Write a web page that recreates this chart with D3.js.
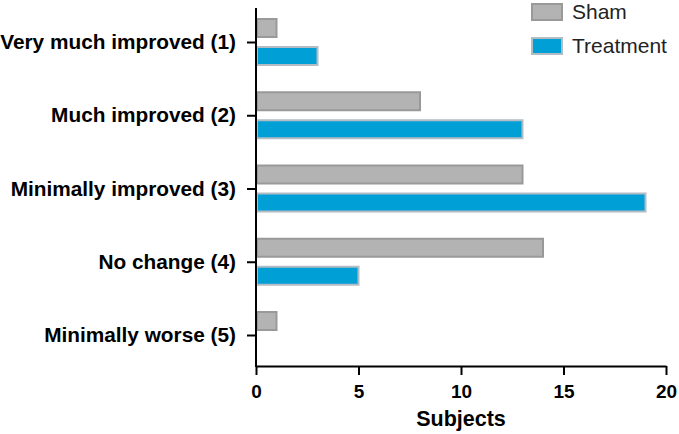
<!DOCTYPE html>
<html><head><meta charset="utf-8">
<script src="https://cdn.jsdelivr.net/npm/d3@7"></script>
<style>body{margin:0;background:#fff}svg{display:block;font-family:"Liberation Sans",Arial,Helvetica,sans-serif}</style>
</head><body>
<svg id="c" width="679" height="434"></svg>
<script>
const categories = ["Very much improved (1)","Much improved (2)","Minimally improved (3)","No change (4)","Minimally worse (5)"];
const sham = [1, 8, 13, 14, 1];
const treatment = [3, 13, 19, 5, 0];
const seriesNames = ["Sham","Treatment"];
const xTicks = [0,5,10,15,20];

const svg = d3.select("#c");
const x = d3.scaleLinear().domain([0,20]).range([256,666]);
const y = d3.scalePoint().domain(categories).range([42,335]);
const colors = {Sham:{fill:"#b3b3b3",stroke:"#999999"}, Treatment:{fill:"#009fd6",stroke:"#b3bcc4"}};

const data = categories.map((c,i)=>({cat:c, Sham:sham[i], Treatment:treatment[i]}));

// bars
const barH = 18;
seriesNames.forEach((s,si)=>{
  svg.append("g").selectAll("rect").data(data.filter(d=>d[s]>0)).join("rect")
    .attr("x", x(0)+1)
    .attr("y", d => si===0 ? y(d.cat)-5-barH : y(d.cat)+5)
    .attr("width", d => x(d[s]) - x(0) - 1)
    .attr("height", barH)
    .attr("fill", colors[s].fill)
    .attr("stroke", colors[s].stroke)
    .attr("stroke-width", 2);
});

// x axis
const xa = svg.append("g").attr("transform","translate(0,366)")
  .call(d3.axisBottom(x).tickValues(xTicks).tickSize(9).tickPadding(10).tickSizeOuter(0));
xa.select(".domain").attr("stroke","#000").attr("stroke-width",2);
xa.selectAll(".tick line").attr("stroke","#000").attr("stroke-width",2);
xa.selectAll(".tick text").style("font-size","19px").style("font-weight","bold").attr("fill","#000")
  .style("font-family","Liberation Sans, Arial, sans-serif");

// y axis
const ya = svg.append("g").attr("transform","translate(256,0)")
  .call(d3.axisLeft(y).tickSize(9).tickPadding(11).tickSizeOuter(0));
ya.select(".domain").remove();
ya.append("line").attr("x1",0).attr("x2",0).attr("y1",8).attr("y2",367).attr("stroke","#000").attr("stroke-width",2);
ya.selectAll(".tick line").attr("stroke","#000").attr("stroke-width",2);
ya.selectAll(".tick text").style("font-size","20.8px").style("font-weight","bold").attr("fill","#000")
  .style("font-family","Liberation Sans, Arial, sans-serif");

// x label
svg.append("text").attr("x", x(10)).attr("y", 426).attr("text-anchor","middle")
  .style("font-size","21.5px").attr("font-weight","bold").text("Subjects");

// legend
const lg = svg.append("g");
seriesNames.forEach((s,i)=>{
  const yy = 4 + i*34;
  lg.append("rect").attr("x",532).attr("y",yy).attr("width",30).attr("height",16)
    .attr("fill",colors[s].fill).attr("stroke",colors[s].stroke).attr("stroke-width",2);
  lg.append("text").attr("x",572).attr("y",yy+15).style("font-size","21px").attr("fill","#222").text(s);
});
</script>
</body></html>
